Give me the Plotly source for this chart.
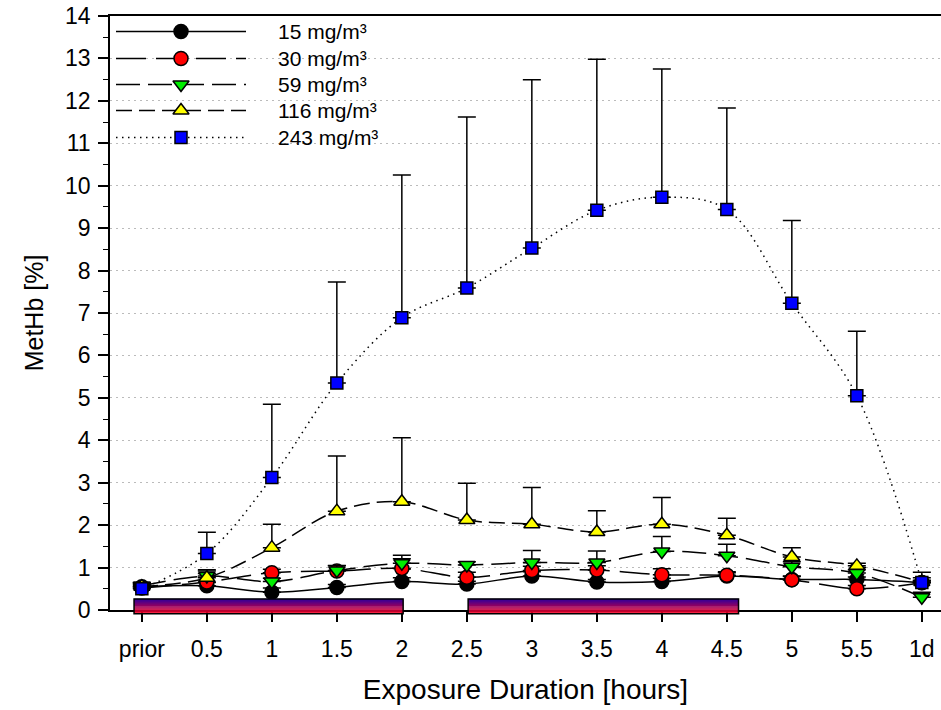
import plotly.graph_objects as go

# ---------------- data ----------------
categories = ["prior", "0.5", "1", "1.5", "2", "2.5", "3", "3.5", "4", "4.5", "5", "5.5", "1d"]

series_names = ["15 mg/m³", "30 mg/m³", "59 mg/m³", "116 mg/m³", "243 mg/m³"]

metHb_15 = [0.55, 0.57, 0.42, 0.53, 0.67, 0.61, 0.80, 0.66, 0.67, 0.80, 0.72, 0.72, 0.65]
err_15 = [0.07, 0.08, 0.10, 0.07, 0.09, 0.07, 0.10, 0.06, 0.08, 0.08, 0.08, 0.06, 0.05]

metHb_30 = [0.52, 0.66, 0.88, 0.92, 0.98, 0.77, 0.93, 0.94, 0.83, 0.82, 0.71, 0.50, 0.64]
err_30 = [0.08, 0.20, 0.08, 0.12, 0.23, 0.12, 0.10, 0.10, 0.14, 0.08, 0.08, 0.08, 0.05]

metHb_59 = [0.57, 0.80, 0.67, 0.93, 1.10, 1.06, 1.12, 1.12, 1.38, 1.28, 1.02, 0.87, 0.30]
err_59 = [0.08, 0.15, 0.08, 0.12, 0.19, 0.08, 0.28, 0.27, 0.35, 0.27, 0.12, 0.08, 0.12]

metHb_116 = [0.55, 0.76, 1.47, 2.33, 2.55, 2.12, 2.02, 1.84, 2.02, 1.76, 1.25, 1.04, 0.66]
err_116 = [0.10, 0.16, 0.55, 1.30, 1.51, 0.87, 0.87, 0.50, 0.63, 0.40, 0.22, 0.06, 0.10]

metHb_243 = [0.50, 1.33, 3.12, 5.35, 6.89, 7.59, 8.53, 9.42, 9.73, 9.44, 7.23, 5.05, 0.65]
err_243 = [0.14, 0.50, 1.73, 2.38, 3.36, 4.03, 3.97, 3.56, 3.02, 2.39, 1.95, 1.52, 0.24]

y_tick_values = list(range(0, 15))

# exposure periods drawn as gradient bars (in category-index units)
exposure_bars = [(-0.12, 4.02), (5.02, 9.18)]

# ---------------- styles ----------------
FONT = "Liberation Sans, Arial, Helvetica, sans-serif"
styles = [
    dict(color="#000000", symbol="circle", size=14, dash="solid"),
    dict(color="#ff0000", symbol="circle", size=14, dash="30px,10px"),
    dict(color="#00ee00", symbol="triangle-down", size=14, dash="24px,8px"),
    dict(color="#ffff00", symbol="triangle-up", size=14, dash="16px,7px"),
    dict(color="#0000ff", symbol="square", size=12, dash="1.5px,4.5px"),
]
values = [metHb_15, metHb_30, metHb_59, metHb_116, metHb_243]
errors = [err_15, err_30, err_59, err_116, err_243]

fig = go.Figure()

for name, vals, errs, st in zip(series_names, values, errors, styles):
    fig.add_trace(go.Scatter(
        x=categories, y=vals, name=name, mode="lines+markers",
        line=dict(color="black", width=1.5, dash=st["dash"], shape="spline", smoothing=1),
        marker=dict(symbol=st["symbol"], size=st["size"], color=st["color"],
                    line=dict(color="black", width=1.5)),
        error_y=dict(type="data", array=errs, arrayminus=[0] * len(errs), symmetric=False,
                     color="black", thickness=1.5, width=9),
        showlegend=False, cliponaxis=False,
    ))

# ---------------- custom legend (pixel-space overlay axes) ----------------
legend_rows = [32, 59, 85, 111, 138]
for name, st, yr in zip(series_names, styles, legend_rows):
    fig.add_trace(go.Scatter(
        x=[116, 246], y=[yr, yr], mode="lines", xaxis="x2", yaxis="y2",
        line=dict(color="black", width=1.5, dash=st["dash"]), showlegend=False, hoverinfo="skip"))
    fig.add_trace(go.Scatter(
        x=[181], y=[yr], mode="markers", xaxis="x2", yaxis="y2",
        marker=dict(symbol=st["symbol"], size=st["size"], color=st["color"],
                    line=dict(color="black", width=1.5)),
        showlegend=False, hoverinfo="skip"))
    fig.add_annotation(x=276, y=yr, xref="x2", yref="y2", text=name, showarrow=False,
                       xanchor="left", yanchor="middle", font=dict(size=21, color="black", family=FONT))

# ---------------- gradient exposure bars ----------------
shapes = []
n_strips = 14
bar_top, bar_bot = 0.0185, -0.0065
top_rgb, bot_rgb = (40, 0, 160), (255, 0, 30)
for (x0, x1) in exposure_bars:
    h = (bar_top - bar_bot) / n_strips
    for i in range(n_strips):
        t = (i + 0.5) / n_strips
        c = tuple(int(round(top_rgb[k] + (bot_rgb[k] - top_rgb[k]) * t)) for k in range(3))
        shapes.append(dict(type="rect", xref="x", yref="paper", x0=x0, x1=x1,
                           y0=bar_top - (i + 1) * h, y1=bar_top - i * h + 0.0005,
                           fillcolor="rgb(%d,%d,%d)" % c, line=dict(width=0), layer="above"))
    shapes.append(dict(type="rect", xref="x", yref="paper", x0=x0, x1=x1, y0=bar_bot, y1=bar_top,
                       fillcolor="rgba(0,0,0,0)", line=dict(color="black", width=1.5), layer="above"))

fig.update_layout(
    width=941, height=710,
    margin=dict(l=110, r=0, t=16, b=100),
    paper_bgcolor="white", plot_bgcolor="white",
    font=dict(family=FONT, color="black", size=23),
    shapes=shapes,
    xaxis=dict(
        type="category", range=[-0.49, 12.295],
        showline=True, linecolor="black", linewidth=1.5, mirror=True,
        ticks="outside", ticklen=10, tickwidth=1.5, tickcolor="black",
        tickfont=dict(size=23, family=FONT), ticklabelstandoff=8,
        showgrid=False, zeroline=False,
        title=dict(text="Exposure Duration [hours]", font=dict(size=28, family=FONT), standoff=18),
    ),
    yaxis=dict(
        range=[0, 14], tickvals=y_tick_values,
        showline=True, linecolor="black", linewidth=1.5, mirror=False,
        ticks="outside", ticklen=10, tickwidth=1.5, tickcolor="black",
        tickfont=dict(size=23, family=FONT), ticklabelstandoff=3,
        minor=dict(dtick=0.5, ticks="outside", ticklen=5, tickwidth=1, tickcolor="black", showgrid=False),
        showgrid=True, gridcolor="#bbbbbb", gridwidth=1, griddash="2px,4px", zeroline=False,
        title=dict(text="MetHb [%]", font=dict(size=25, family=FONT), standoff=14),
    ),
    xaxis2=dict(overlaying="x", range=[110, 941], visible=False, fixedrange=True),
    yaxis2=dict(overlaying="y", range=[610.5, 16.5], visible=False, fixedrange=True),
)

fig.write_html("out.html", config={"displayModeBar": False},
               post_script="document.body.style.margin='0';document.body.style.overflow='hidden';")
